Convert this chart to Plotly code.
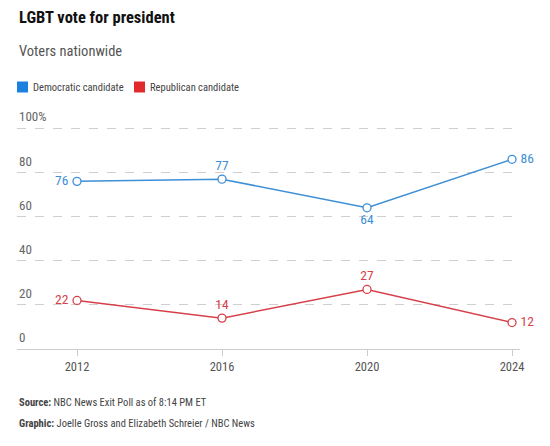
import plotly.graph_objects as go

years = [2012, 2016, 2020, 2024]
dem = [76, 77, 64, 86]
rep = [22, 14, 27, 12]
ytick_vals = [0, 20, 40, 60, 80, 100]
ytick_text = ["0", "20", "40", "60", "80", "100%"]
xtick_vals = [2012, 2016, 2020, 2024]

BLUE = "#3d8fd6"
RED = "#d6404a"
BLUE_SQ = "#1b80e0"
RED_SQ = "#e02a2e"
FONT = "Roboto Condensed, Liberation Sans Narrow, Roboto, sans-serif"

# page has an 8px body margin: work in reference-pixel coords, shift by OFF
OFF = 8
W, H = 550 - OFF, 446 - OFF
L, R = 17 - OFF, 520 - OFF
T, B = 128 - OFF, 349 - OFF
YMAX = 102
T_eff = B - (B - T) * YMAX / 100.0

def px(x):
    return (x - OFF - L) / (R - L)

def py(y):
    return (B - (y - OFF)) / (B - T_eff)

def label_texts(vals, positions):
    out = []
    for v, p in zip(vals, positions):
        s = str(v)
        if p.endswith("left"):
            s = s + "\u2009"
        elif p.endswith("right"):
            s = "\u2009" + s
        out.append(s)
    return out

dem_pos = ["middle left", "top center", "bottom center", "middle right"]
rep_pos = ["middle left", "top center", "top center", "middle right"]

fig = go.Figure()
fig.add_trace(go.Scatter(
    x=years, y=dem, mode="lines+markers+text",
    line=dict(color=BLUE, width=1.5),
    marker=dict(symbol="circle", size=8, color="white", line=dict(color=BLUE, width=1.3)),
    text=label_texts(dem, dem_pos),
    textposition=dem_pos,
    textfont=dict(color=BLUE, size=13.5, family=FONT),
    showlegend=False, cliponaxis=False,
))
fig.add_trace(go.Scatter(
    x=years, y=rep, mode="lines+markers+text",
    line=dict(color=RED, width=1.5),
    marker=dict(symbol="circle", size=8, color="white", line=dict(color=RED, width=1.3)),
    text=label_texts(rep, rep_pos),
    textposition=rep_pos,
    textfont=dict(color=RED, size=13.5, family=FONT),
    showlegend=False, cliponaxis=False,
))

annotations = [
    dict(text="<b>LGBT vote for president</b>", x=0, y=py(17), xref="paper", yref="paper",
         xanchor="left", yanchor="middle", showarrow=False,
         font=dict(size=16.5, color="#111", family=FONT)),
    dict(text="Voters nationwide", x=0, y=py(51), xref="paper", yref="paper",
         xanchor="left", yanchor="middle", showarrow=False,
         font=dict(size=14.5, color="#555", family=FONT)),
    dict(text="Democratic candidate", x=px(31), y=py(87), xref="paper", yref="paper",
         xanchor="left", yanchor="middle", showarrow=False,
         font=dict(size=10.5, color="#444", family=FONT)),
    dict(text="Republican candidate", x=px(148), y=py(87), xref="paper", yref="paper",
         xanchor="left", yanchor="middle", showarrow=False,
         font=dict(size=10.5, color="#444", family=FONT)),
    dict(text="<b>Source:</b> NBC News Exit Poll as of 8:14 PM ET", x=0, y=py(403),
         xref="paper", yref="paper", xanchor="left", yanchor="middle", showarrow=False,
         font=dict(size=10.5, color="#444", family=FONT)),
    dict(text="<b>Graphic:</b> Joelle Gross and Elizabeth Schreier / NBC News", x=0, y=py(424),
         xref="paper", yref="paper", xanchor="left", yanchor="middle", showarrow=False,
         font=dict(size=10.5, color="#444", family=FONT)),
]
for v, t in zip(ytick_vals, ytick_text):
    annotations.append(dict(
        text=t, x=0, y=v, xref="paper", yref="y", xanchor="left", yanchor="bottom",
        yshift=2, showarrow=False, font=dict(size=13, color="#666", family=FONT)))

shapes = [
    dict(type="rect", xref="paper", yref="paper", x0=px(17), x1=px(28), y0=py(81), y1=py(92),
         fillcolor=BLUE_SQ, line=dict(width=0)),
    dict(type="rect", xref="paper", yref="paper", x0=px(134), x1=px(145), y0=py(81), y1=py(92),
         fillcolor=RED_SQ, line=dict(width=0)),
]

fig.update_layout(
    width=W, height=H,
    margin=dict(l=L, r=W - R, t=round(T_eff), b=H - B, pad=0),
    paper_bgcolor="white", plot_bgcolor="white",
    font=dict(family=FONT, color="#555"),
    annotations=annotations, shapes=shapes,
    showlegend=False,
)
fig.update_xaxes(
    range=[2010.345, 2024.22], tickvals=xtick_vals, ticktext=[str(v) for v in xtick_vals],
    showgrid=False, zeroline=False, showline=True, linecolor="#ccc", linewidth=1,
    ticks="outside", ticklen=6, tickcolor="#ccc", tickfont=dict(size=12.5, color="#555", family=FONT),
    fixedrange=True,
)
fig.update_yaxes(
    range=[0, YMAX], tickvals=ytick_vals, showticklabels=False,
    showgrid=True, gridcolor="#cfcfcf", griddash="dash", gridwidth=1,
    zeroline=False, showline=False, ticks="", fixedrange=True,
)

fig.write_html("out.html")
